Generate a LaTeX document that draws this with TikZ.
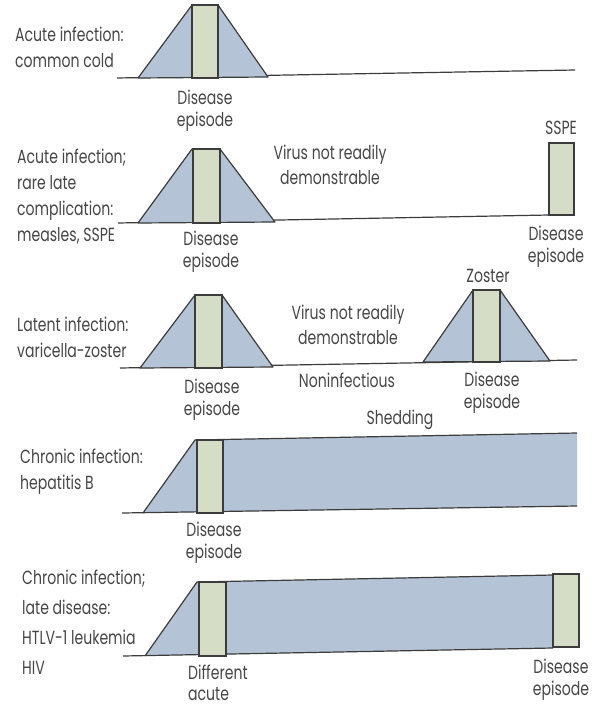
\documentclass[tikz,border=0pt]{standalone}
\usepackage{fontspec}
\setmainfont[FakeStretch=0.74]{Poppins}
\usetikzlibrary{positioning}
\definecolor{virblue}{RGB}{180,195,214}
\definecolor{epgreen}{RGB}{214,221,198}
\definecolor{inkgray}{RGB}{60,60,60}
\definecolor{txtgray}{RGB}{70,70,70}
\begin{document}
\begin{tikzpicture}[x=1pt, y=-1pt,
    txt/.style={text=txtgray, inner sep=0pt, font=\fontsize{19}{26}\selectfont},
    lbl/.style={txt, anchor=west, align=left},
    epitxt/.style={txt, align=center, font=\fontsize{19}{22}\selectfont},
    virus/.style={fill=virblue, draw=inkgray, line width=1.2pt, line join=round},
    episode/.style={fill=epgreen, draw=inkgray, line width=1.2pt},
    axis/.style={draw=inkgray, line width=1.2pt}
]
\useasboundingbox (0,0) rectangle (598,706);
% 1. Acute infection
\draw[axis] (117,78) -- (575,70);
\draw[virus] (138,78) -- (192,5) -- (218,5) -- (268,77) -- cycle;
\draw[episode] (192,5) rectangle (218,78);
\node[lbl] (lblcold) at (15,47) {Acute infection:\\common cold};
\node[epitxt] (epcold) at (205,111) {Disease\\episode};
% 2. Acute infection with late complication
\draw[axis] (118,223) -- (549,215);
\draw[virus] (138,223) -- (192,149) -- (220,149) -- (275,222) -- cycle;
\draw[episode] (193,149) rectangle (220,223);
\draw[episode] (549,143) rectangle (574,215);
\node[lbl] (lblmeasles) at (17,197) {Acute infection;\\rare late\\complication:\\measles, SSPE};
\node[epitxt] (epmeasles) at (211,252) {Disease\\episode};
\node[epitxt, font=\fontsize{19}{25}\selectfont] (hidmeasles) at (330,165) {Virus not readily\\demonstrable};
\node[txt] (sspe) at (561,128) {SSPE};
\node[epitxt] (epsspe) at (556,247) {Disease\\episode};
% 3. Latent infection
\draw[axis] (120,368) -- (577,360);
\draw[virus] (140,368) -- (195,295) -- (222,295) -- (273,367) -- cycle;
\draw[episode] (195,295) rectangle (222,368);
\draw[virus] (423,362) -- (473,290) -- (500,290) -- (550,361) -- cycle;
\draw[episode] (473,290) rectangle (500,362);
\node[lbl] (lblvzv) at (17,337) {Latent infection:\\varicella-zoster};
\node[epitxt] (epvzv) at (212,400) {Disease\\episode};
\node[epitxt, font=\fontsize{19}{25}\selectfont] (hidvzv) at (348,325) {Virus not readily\\demonstrable};
\node[txt] (zoster) at (488,276) {Zoster};
\node[txt] (nonin) at (347,380) {Noninfectious};
\node[epitxt] (epzoster) at (492,393) {Disease\\episode};
\node[txt] (shed) at (400,420) {Shedding};
% 4. Chronic infection
\fill[virblue] (143,513) -- (195,440) -- (577,433) -- (577,506) -- cycle;
\draw[axis] (122,513) -- (577,506);
\draw[axis] (143,513) -- (195,440) -- (577,433);
\draw[episode] (197,440) rectangle (223,513);
\node[lbl] (lblhbv) at (20,472) {Chronic infection:\\hepatitis B};
\node[epitxt] (ephbv) at (214,543) {Disease\\episode};
% 5. Chronic infection with late disease
\fill[virblue] (145,656) -- (197,582) -- (553,575) -- (553,648) -- cycle;
\draw[axis] (123,656) -- (553,648);
\draw[axis] (145,656) -- (197,582) -- (553,575);
\draw[episode] (199,582) rectangle (226,656);
\draw[episode] (553,574) rectangle (579,647);
\node[lbl, font=\fontsize{19}{30}\selectfont] (lblhiv) at (22,622) {Chronic infection;\\late disease:\\HTLV-1 leukemia\\HIV};
\node[lbl, font=\fontsize{19}{21}\selectfont] (acute) at (188,683) {Different\\acute};
\node[epitxt] (ephiv) at (561,680) {Disease\\episode};
\end{tikzpicture}
\end{document}
